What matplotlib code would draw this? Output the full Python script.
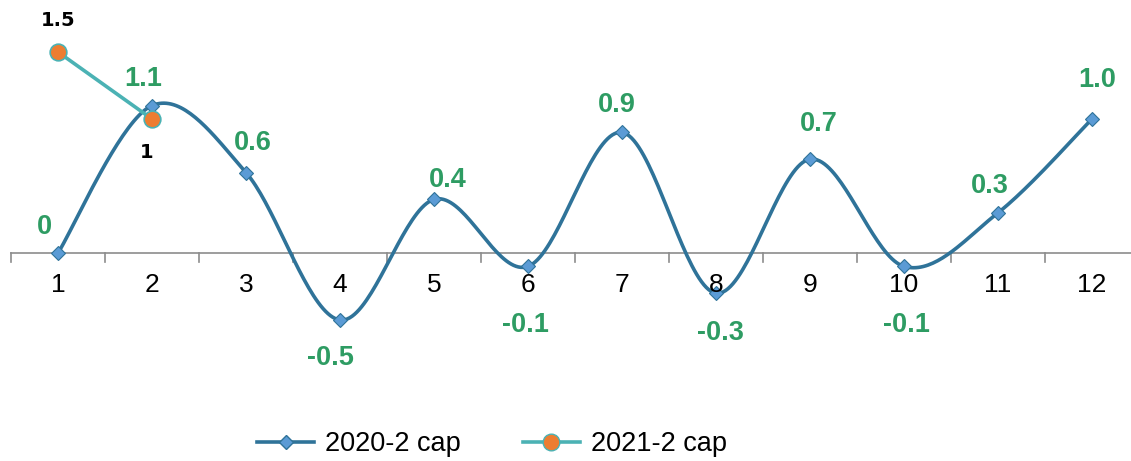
import numpy as np
import matplotlib.pyplot as plt
from matplotlib.lines import Line2D

plt.rcParams['font.family'] = ['Liberation Sans', 'DejaVu Sans']

# data
months = np.arange(1, 13)
cap_2020 = [0, 1.1, 0.6, -0.5, 0.4, -0.1, 0.9, -0.3, 0.7, -0.1, 0.3, 1.0]
labels_2020 = ['0', '1.1', '0.6', '-0.5', '0.4', '-0.1', '0.9', '-0.3', '0.7', '-0.1', '0.3', '1.0']
months_2021 = [1, 2]
cap_2021 = [1.5, 1]
labels_2021 = ['1.5', '1']

# label offsets in points (x, y)
off_2020 = [(-10, 19), (-6, 19), (5, 21), (-7, -27), (10, 14), (-2, -42),
            (-4, 20), (3, -29), (6, 25), (2, -42), (-6, 19), (4, 28)]
off_2021 = [(0, 23), (-4, -24)]

c_line20 = '#2F7399'
c_mark20 = '#5B9BD5'
c_line21 = '#4BB2B4'
c_mark21 = '#ED7D31'
c_lab = '#2E9C63'


def smooth(x, y, n=40):
    # Excel-like bezier smoothing (catmull-rom)
    x = np.asarray(x, float)
    y = np.asarray(y, float)
    px = np.concatenate([[x[0]], x, [x[-1]]])
    py = np.concatenate([[y[0]], y, [y[-1]]])
    xs, ys = [], []
    t = np.linspace(0, 1, n)
    for i in range(1, len(x)):
        p0 = np.array([px[i], py[i]])
        p1 = np.array([px[i + 1], py[i + 1]])
        pm = np.array([px[i - 1], py[i - 1]])
        pp = np.array([px[i + 2], py[i + 2]])
        c1 = p0 + (p1 - pm) / 6
        c2 = p1 - (pp - p0) / 6
        b = (np.outer((1 - t) ** 3, p0) + np.outer(3 * (1 - t) ** 2 * t, c1)
             + np.outer(3 * (1 - t) * t ** 2, c2) + np.outer(t ** 3, p1))
        xs.append(b[:, 0])
        ys.append(b[:, 1])
    return np.concatenate(xs), np.concatenate(ys)


fig = plt.figure(figsize=(11.31, 4.61), dpi=100)
ax = fig.add_axes([0, 0, 1, 1])

sx, sy = smooth(months, cap_2020)
ax.plot(sx, sy, color=c_line20, lw=2.6, zorder=2)
ax.plot(months, cap_2020, ls='none', marker='D', ms=7, mfc=c_mark20,
        mec=c_line20, mew=0.8, zorder=3)

ax.plot(months_2021, cap_2021, color=c_line21, lw=2.6, zorder=4)
ax.plot(months_2021, cap_2021, ls='none', marker='o', ms=12, mfc=c_mark21,
        mec=c_line21, mew=1.2, zorder=5)

for x, y, s, o in zip(months, cap_2020, labels_2020, off_2020):
    ax.annotate(s, (x, y), xytext=o, textcoords='offset points', ha='center',
                va='center', color=c_lab, fontsize=19.5, fontweight='bold')
for x, y, s, o in zip(months_2021, cap_2021, labels_2021, off_2021):
    ax.annotate(s, (x, y), xytext=o, textcoords='offset points', ha='center',
                va='center', color='black', fontsize=14, fontweight='bold',
                family=['DejaVu Sans'])

# axes like excel category axis
ax.set_xlim(1 - 58 / 94, 1 + 1073 / 94)
ax.set_ylim(-208 / 134, 253 / 134)
for sp in ax.spines.values():
    sp.set_visible(False)
ax.axhline(0, xmin=(0.5 - ax.get_xlim()[0]) / np.ptp(ax.get_xlim()), xmax=1,
           color='#8C8C8C', lw=1.2, zorder=1)
for t in np.arange(0.5, 12.6, 1):
    ax.plot([t, t], [0, -0.07], color='#8C8C8C', lw=1.2, zorder=1)
for m in months:
    ax.text(m, -0.24, str(m), ha='center', va='center', fontsize=19)
ax.set_xticks([])
ax.set_yticks([])

handles = [
    Line2D([], [], color=c_line20, lw=2.6, marker='D', ms=7, mfc=c_mark20, mec=c_line20),
    Line2D([], [], color=c_line21, lw=2.6, marker='o', ms=12, mfc=c_mark21, mec=c_line21),
]
fig.legend(handles, ['2020-2 cap', '2021-2 cap'], loc='lower center', ncol=2,
           bbox_to_anchor=(0.435, -0.045), frameon=False, fontsize=19.5,
           handlelength=2.1, columnspacing=2.3, handletextpad=0.4)

fig.savefig('out.png', dpi=100)
